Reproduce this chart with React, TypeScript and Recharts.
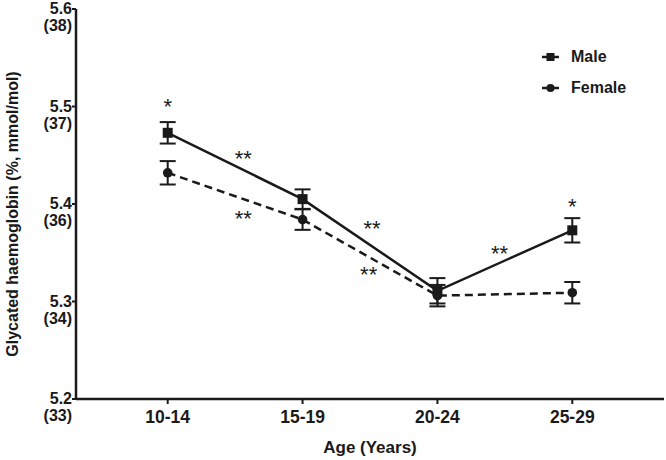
import React from 'react';
import { ComposedChart, Line, XAxis, YAxis, ErrorBar, Scatter, Legend } from 'recharts';

const ageGroups = ['10-14', '15-19', '20-24', '25-29'];
const groupPos = [1, 2, 3, 4];
const maleMean = [5.473, 5.405, 5.311, 5.373];
const maleSE = [0.011, 0.01, 0.013, 0.0125];
const femaleMean = [5.432, 5.384, 5.306, 5.309];
const femaleSE = [0.012, 0.0105, 0.011, 0.011];

const yTicks = [5.2, 5.3, 5.4, 5.5, 5.6];
const yTickMmol = ['(33)', '(34)', '(36)', '(37)', '(38)'];

const sigX = [1.0, 1.56, 1.56, 2.515, 2.49, 3.46, 4.0];
const sigY = [5.505, 5.451, 5.39, 5.38, 5.332, 5.354, 5.402];
const sigText = ['*', '**', '**', '**', '**', '**', '*'];

const data = groupPos.map((x, i) => ({
  x,
  male: maleMean[i],
  maleErr: maleSE[i],
  female: femaleMean[i],
  femaleErr: femaleSE[i],
}));

const sigData = sigX.map((x, i) => ({ x, y: sigY[i], t: sigText[i] }));

const FONT = '"Liberation Sans", Arial, Helvetica, sans-serif';
const INK = '#1a1a1a';

const SquareDot = (props: any) => {
  const { cx, cy } = props;
  if (cx == null || cy == null) return null;
  return <rect x={cx - 5} y={cy - 5} width={10} height={10} fill={INK} />;
};

const CircleDot = (props: any) => {
  const { cx, cy } = props;
  if (cx == null || cy == null) return null;
  return <circle cx={cx} cy={cy} r={4.8} fill={INK} />;
};

const YTick = (props: any) => {
  const { x, y, payload } = props;
  const idx = yTicks.indexOf(payload.value);
  return (
    <g>
      <text x={x} y={y + 5} textAnchor="end" fontSize={16} fontWeight="bold" fill={INK} fontFamily={FONT}>
        {payload.value.toFixed(1)}
      </text>
      <text x={x} y={y + 22} textAnchor="end" fontSize={16} fontWeight="bold" fill={INK} fontFamily={FONT}>
        {yTickMmol[idx]}
      </text>
    </g>
  );
};

const XTick = (props: any) => {
  const { x, y, payload } = props;
  const idx = groupPos.indexOf(payload.value);
  return (
    <text x={x} y={y + 19} textAnchor="middle" fontSize={17.5} fontWeight="bold" fill={INK} fontFamily={FONT}>
      {ageGroups[idx]}
    </text>
  );
};

const StarShape = (props: any) => {
  const { cx, cy, payload } = props;
  return (
    <text x={cx} y={cy + 12} textAnchor="middle" fontSize={22} fill={INK} fontFamily={FONT}>
      {payload.t}
    </text>
  );
};

const LegendContent = () => {
  const rows = [
    { label: 'Male', shape: 'square' },
    { label: 'Female', shape: 'circle' },
  ];
  return (
    <div style={{ fontFamily: FONT }}>
      {rows.map((r) => (
        <div key={r.label} style={{ display: 'flex', alignItems: 'center', height: 31 }}>
          <svg width={20} height={12} style={{ display: 'block' }}>
            <line x1={2} y1={6} x2={19} y2={6} stroke={INK} strokeWidth={2.5} />
            {r.shape === 'square' ? (
              <rect x={6.5} y={2} width={8} height={8} fill={INK} />
            ) : (
              <circle cx={10.5} cy={6} r={4} fill={INK} />
            )}
          </svg>
          <span style={{ marginLeft: 11, fontSize: 16, fontWeight: 'bold', color: INK }}>{r.label}</span>
        </div>
      ))}
    </div>
  );
};

export default function App() {
  return (
    <div style={{ position: 'absolute', left: 0, top: 0, background: '#fff' }}>
      <ComposedChart width={666} height={460} data={data} margin={{ top: 9, right: 2, left: 0, bottom: 0 }}>
        <XAxis
          dataKey="x"
          type="number"
          domain={[0.32, 4.68]}
          ticks={groupPos}
          tick={<XTick />}
          tickSize={5}
          tickMargin={0}
          height={61}
          axisLine={{ stroke: INK, strokeWidth: 2.5 }}
          tickLine={{ stroke: INK, strokeWidth: 2 }}
          allowDataOverflow
          label={{
            value: 'Age (Years)',
            position: 'insideBottom',
            offset: 7,
            style: { fontSize: 17, fontWeight: 'bold', fill: INK, fontFamily: FONT },
          }}
        />
        <YAxis
          type="number"
          domain={[5.2, 5.6]}
          ticks={yTicks}
          tick={<YTick />}
          tickSize={4}
          tickMargin={0}
          width={76}
          axisLine={{ stroke: INK, strokeWidth: 2.5 }}
          tickLine={{ stroke: INK, strokeWidth: 2 }}
          allowDataOverflow
          label={{
            value: 'Glycated haemoglobin (%, mmol/mol)',
            angle: -90,
            position: 'insideLeft',
            offset: 12,
            dy: 10,
            style: { fontSize: 16, fontWeight: 'bold', fill: INK, fontFamily: FONT, textAnchor: 'middle' },
          }}
        />
        <Legend
          layout="horizontal"
          verticalAlign="middle"
          align="center"
          content={<LegendContent />}
          wrapperStyle={{ left: 540, top: 41, width: 130 }}
        />
        <Line
          dataKey="male"
          name="Male"
          stroke={INK}
          strokeWidth={2.5}
          dot={<SquareDot />}
          activeDot={false}
          isAnimationActive={false}
        >
          <ErrorBar dataKey="maleErr" width={8} stroke={INK} strokeWidth={2} direction="y" />
        </Line>
        <Line
          dataKey="female"
          name="Female"
          stroke={INK}
          strokeWidth={2.5}
          strokeDasharray="8 5"
          dot={<CircleDot />}
          activeDot={false}
          isAnimationActive={false}
        >
          <ErrorBar dataKey="femaleErr" width={8} stroke={INK} strokeWidth={2} direction="y" />
        </Line>
        <Scatter data={sigData} dataKey="y" shape={<StarShape />} legendType="none" isAnimationActive={false} />
      </ComposedChart>
    </div>
  );
}
